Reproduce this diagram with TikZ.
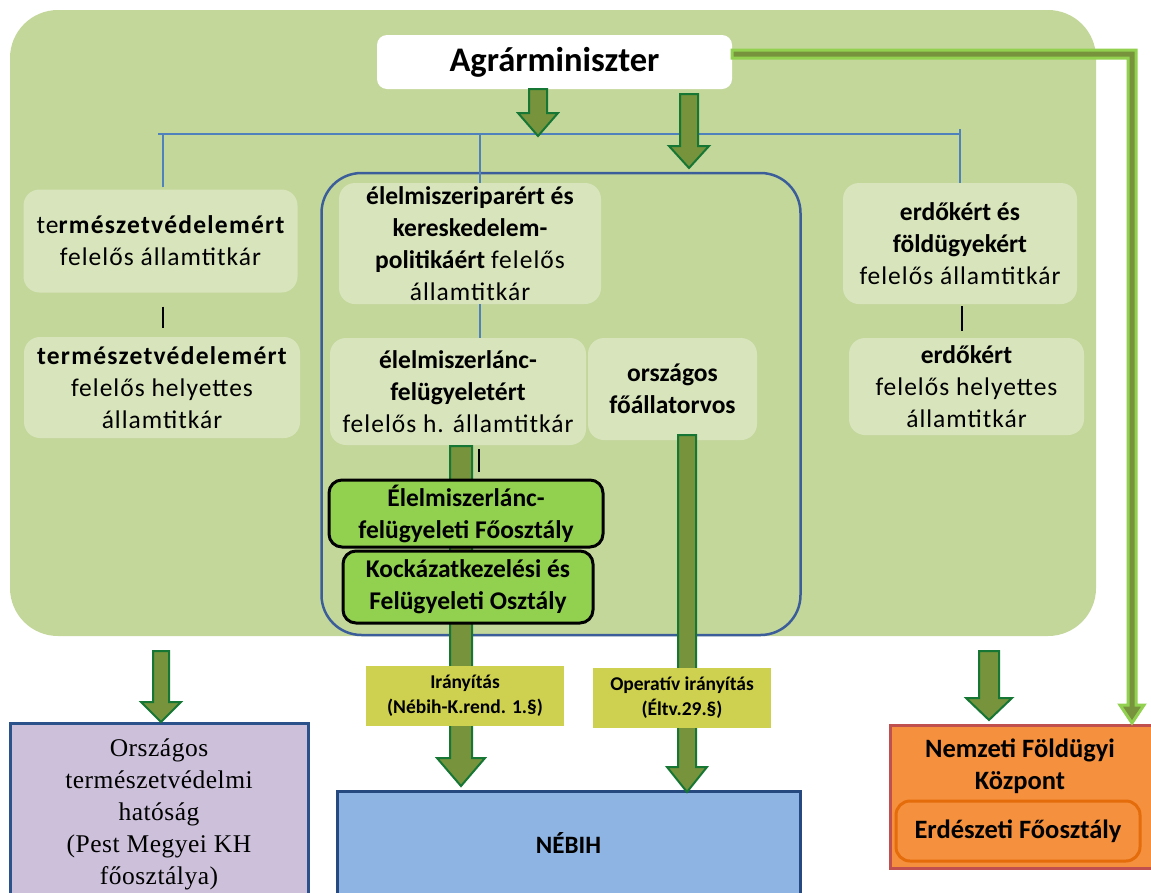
\documentclass[tikz,border=0pt]{standalone}
\usepackage{fontspec}
\setmainfont{Carlito}
\newfontfamily\spc{Carlito}[LetterSpace=4]
\newfontfamily\spcb{Carlito Bold}[LetterSpace=5]
\newfontfamily\serifx{Liberation Serif}[LetterSpace=2]
\usetikzlibrary{calc}
\definecolor{bgc}{RGB}{196,215,155}
\definecolor{lboxc}{RGB}{216,228,188}
\definecolor{arrfill}{RGB}{119,147,60}
\definecolor{arrdraw}{RGB}{22,118,52}
\definecolor{gboxc}{RGB}{146,208,80}
\definecolor{labc}{RGB}{206,208,80}
\definecolor{linec}{RGB}{79,129,189}
\definecolor{innerc}{RGB}{59,94,154}
\definecolor{purplec}{RGB}{204,192,218}
\definecolor{purpled}{RGB}{44,82,140}
\definecolor{nebihc}{RGB}{142,180,227}
\definecolor{nebihd}{RGB}{38,74,128}
\definecolor{orangec}{RGB}{245,145,62}
\definecolor{oranged}{RGB}{192,80,77}
\definecolor{orangei}{RGB}{228,108,10}
\definecolor{lgreen}{RGB}{146,208,80}
\tikzset{
  txt/.style={font=\fontsize{25.5}{32}\selectfont, align=center},
  lbox/.style={fill=lboxc, rounded corners=16pt, inner sep=0pt, txt},
  gbox/.style={fill=gboxc, draw=black, line width=3pt, rounded corners=13pt, inner sep=0pt,
    font=\fontsize{25.5}{32}\selectfont\bfseries, align=center},
  labbox/.style={fill=labc, inner sep=0pt, font=\fontsize{19.5}{25}\selectfont\bfseries, align=center},
  arrowst/.style={fill=arrfill, draw=arrdraw, line width=2pt, line join=miter},
  bline/.style={draw=linec, line width=1.6pt},
  kline/.style={draw=black, line width=2pt},
}
% #1 start, #2 tip, #3 half shaft, #4 half head, #5 head length
\newcommand\blockarr[5]{%
  \path[arrowst] let \p1=(#1), \p2=(#2) in
    (\x1-#3pt,\y1) -- (\x1+#3pt,\y1) -- (\x1+#3pt,\y2+#5pt) -- (\x1+#4pt,\y2+#5pt)
    -- (\x1,\y2) -- (\x1-#4pt,\y2+#5pt) -- (\x1-#3pt,\y2+#5pt) -- cycle;}
\begin{document}
\begin{tikzpicture}[x=1pt,y=-1pt]
\useasboundingbox (0,0) rectangle (1151,892);
\fill[white] (0,0) rectangle (1151,892);
% panel
\node[fill=bgc, rounded corners=48pt, minimum width=1086pt, minimum height=626pt, inner sep=0pt] (panel) at (553,323) {};
\node[draw=innerc, line width=2.5pt, rounded corners=40pt, minimum width=479pt, minimum height=462pt, inner sep=0pt] (inner) at (561,404) {};
% top box
\node[fill=white, rounded corners=10pt, minimum width=355pt, minimum height=54pt, inner sep=0pt,
  font=\fontsize{34.5}{40}\selectfont\bfseries] (agr) at (554.5,62) {Agrárminiszter};
% light boxes
\node[lbox, minimum width=274pt, minimum height=103pt] (tv1) at (160.5,241)
  {{\spc te}{\spcb rmészetvédelemért}\\{\spc felelős államtitkár}};
\node[lbox, minimum width=276pt, minimum height=101pt] (tv2) at (162,387.5)
  {{\spcb természetvédelemért}\\{\spc felelős helyettes}\\{\spc államtitkár}};
\node[lbox, minimum width=262pt, minimum height=121pt] (el1) at (470,243.5)
  {\textbf{élelmiszeriparért és}\\\textbf{kereskedelem-}\\\textbf{politikáért} {\spc felelős}\\{\spc államtitkár}};
\node[lbox, minimum width=256pt, minimum height=107pt] (el2) at (458,391.5)
  {\textbf{élelmiszerlánc-}\\\textbf{felügyeletért}\\{\spc felelős h. államtitkár}};
\node[lbox, minimum width=169pt, minimum height=102pt] (fo) at (672.5,389)
  {\textbf{országos}\\\textbf{főállatorvos}};
\node[lbox, minimum width=234pt, minimum height=121pt] (er1) at (960,243.5)
  {\textbf{erdőkért és}\\\textbf{földügyekért}\\{\spc felelős államtitkár}};
\node[lbox, minimum width=235pt, minimum height=97pt] (er2) at (966.5,386.5)
  {\textbf{erdőkért}\\{\spc felelős helyettes}\\{\spc államtitkár}};
% blue connector lines
\coordinate (hl) at (158,134);
\coordinate (hr) at (960,134);
\draw[bline] (hl) -- (hr);
\draw[bline] (tv1.north -| 163,0) ++(0,-2) coordinate (t1b) -- (t1b |- hl);
\draw[bline] (480,134) -- (el1.north -| 480,0);
\draw[bline] (hr) ++(0,-5) -- (er1.north -| 960,0);
\draw[bline] (el1.south -| 480,0) -- (el2.north -| 480,0);
% black ticks
\draw[kline] ([yshift=-14pt]tv1.south -| 163,0) -- ([yshift=-35pt]tv1.south -| 163,0);
\draw[kline] ([yshift=-2pt]er1.south -| 962,0) -- ([yshift=-27pt]er1.south -| 962,0);
\draw[kline] ([yshift=-4pt]el2.south -| 479,0) -- ([yshift=-27pt]el2.south -| 479,0);
% bottom boxes
\node[fill=purplec, draw=purpled, line width=3pt, minimum width=298pt, minimum height=176pt, inner sep=0pt] (hat) at (159,811) {};
\node[font=\serifx\fontsize{25.5}{32}\selectfont, align=center] (hattxt) at (159,814)
  {Országos\\természetvédelmi\\hatóság\\(Pest Megyei KH\\főosztálya)};
\node[fill=nebihc, draw=nebihd, line width=3pt, minimum width=463pt, minimum height=108pt, inner sep=0pt] (nebih) at (568.5,845) {};
\node[font=\fontsize{25}{30}\selectfont\bfseries] (nebihtxt) at (568.5,843) {NÉBIH};
\node[fill=orangec, draw=oranged, line width=3pt, minimum width=262pt, minimum height=143pt, inner sep=0pt] (nfk) at (1021,796.5) {};
\node[txt, font=\fontsize{26.5}{32}\selectfont\bfseries] (nfktxt) at (1020,766) {Nemzeti Földügyi\\Központ};
\node[draw=orangei, line width=3pt, rounded corners=14pt, minimum width=244pt, minimum height=60pt, inner sep=0pt,
  font=\fontsize{26.5}{30}\selectfont\bfseries] (erd) at (1018,831) {Erdészeti Főosztály};
% block arrows
\coordinate (a1s) at (538,89);   \coordinate (a1e) at (538,136);
\coordinate (a2s) at (689,94);   \coordinate (a2e) at (689,168);
\coordinate (a3s) at (461,446);  \coordinate (a3e) at (461,786);
\coordinate (a4s) at (687,435);  \coordinate (a4e) at (687,792);
\coordinate (aLs) at (161,651);  \coordinate (aLe) at (161,722);
\coordinate (aRs) at (989,651);  \coordinate (aRe) at (989,720);
\blockarr{a1s}{a1e}{9}{20}{23}
\blockarr{a2s}{a2e}{9}{20}{22}
\blockarr{a3s}{a3e}{11}{24}{28}
\blockarr{a4s}{a4e}{9}{20}{25}
\blockarr{aLs}{aLe}{8}{20}{20}
\blockarr{aRs}{aRe}{10}{23}{22}
% green L connector
\coordinate (gs) at (732,54);
\coordinate (ge) at (1132,723);
\path[fill=arrfill, draw=lgreen, line width=3pt, line join=miter] let \p1=(gs), \p2=(ge) in
  (\x1,\y1+4pt) -- (\x2+4pt,\y1+4pt) -- (\x2+4pt,\y2+18pt) -- (\x2+12pt,\y2+18pt) -- (\x2,\y2)
  -- (\x2-12pt,\y2+18pt) -- (\x2-4pt,\y2+18pt) -- (\x2-4pt,\y1-4pt) -- (\x1,\y1-4pt) -- cycle;
% green boxes
\node[gbox, minimum width=274pt, minimum height=67pt] (gb1) at (466,513.5)
  {Élelmiszerlánc-\\felügyeleti Főosztály};
\node[gbox, minimum width=250pt, minimum height=72pt] (gb2) at (468,587)
  {Kockázatkezelési és\\Felügyeleti Osztály};
% labels
\node[labbox, minimum width=198pt, minimum height=60pt] (lab1) at (465,696)
  {Irányítás\\(Nébih-K.rend. 1.§)};
\node[labbox, minimum width=178pt, minimum height=60pt] (lab2) at (682,698)
  {Operatív irányítás\\(Éltv.29.§)};
\end{tikzpicture}
\end{document}
